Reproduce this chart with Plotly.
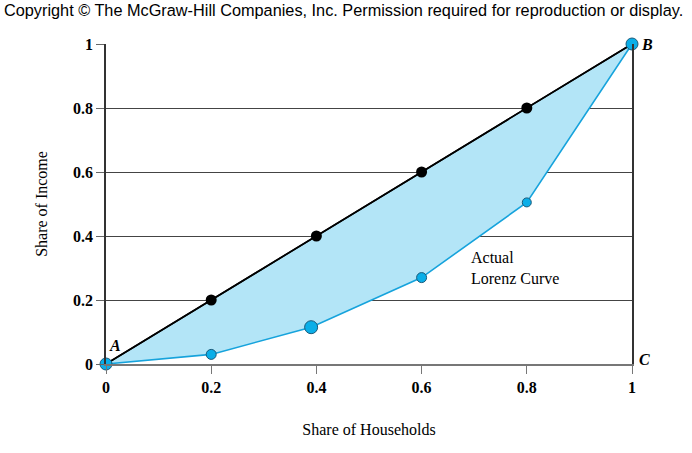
import plotly.graph_objects as go

households = [0, 0.2, 0.4, 0.6, 0.8, 1]
equality = [0, 0.2, 0.4, 0.6, 0.8, 1]
lorenz_x = [0, 0.2, 0.39, 0.6, 0.8, 1]
lorenz_y = [0, 0.03, 0.115, 0.27, 0.505, 1]
lorenz_sizes = [12, 10, 13, 10, 9, 12]
tick_vals = [0, 0.2, 0.4, 0.6, 0.8, 1]
tick_text = ["<b>0</b>", "<b>0.2</b>", "<b>0.4</b>", "<b>0.6</b>", "<b>0.8</b>", "<b>1</b>"]

serif = "Liberation Serif, Times New Roman, serif"
blue_line = "#16a3dc"
blue_fill = "#b3e5f7"
blue_marker = "#0aaee8"

fig = go.Figure()
fig.add_trace(go.Scatter(x=households, y=equality, mode="lines",
                         line=dict(color="black", width=1.6), hoverinfo="skip"))
fig.add_trace(go.Scatter(x=lorenz_x, y=lorenz_y, mode="lines", fill="tonexty",
                         fillcolor=blue_fill, line=dict(color=blue_line, width=1.6)))
fig.add_trace(go.Scatter(x=households, y=equality, mode="lines",
                         line=dict(color="black", width=1.6)))
fig.add_trace(go.Scatter(x=households[1:-1], y=equality[1:-1], mode="markers",
                         marker=dict(color="black", size=11, opacity=1), cliponaxis=False))
fig.add_trace(go.Scatter(x=lorenz_x, y=lorenz_y, mode="markers", cliponaxis=False,
                         marker=dict(color=blue_marker, size=lorenz_sizes, opacity=1,
                                     line=dict(color="#1a5a7a", width=1))))

fig.update_layout(
    width=692, height=453,
    margin=dict(l=106, r=60, t=44, b=89),
    paper_bgcolor="white", plot_bgcolor="white",
    showlegend=False,
    font=dict(family=serif, color="black", size=16),
    xaxis=dict(range=[0, 1], tickvals=tick_vals, ticktext=tick_text,
               showgrid=False, zeroline=False, showline=True, linecolor="#777",
               linewidth=1.5, ticks="outside", ticklen=8, tickcolor="#777",
               tickfont=dict(family=serif, size=16, color="black"),
               title=dict(text="Share of Households", font=dict(family=serif, size=16),
                          standoff=29)),
    yaxis=dict(range=[0, 1], tickvals=tick_vals, ticktext=tick_text,
               showgrid=True, gridcolor="#444", gridwidth=1, zeroline=False,
               showline=True, linecolor="#333", linewidth=1.5, mirror=True,
               ticks="outside", ticklen=8, tickcolor="#666",
               tickfont=dict(family=serif, size=16, color="black"),
               title=dict(text="Share of Income", font=dict(family=serif, size=16),
                          standoff=21)),
    annotations=[
        dict(text="Copyright © The McGraw-Hill Companies, Inc. Permission required for reproduction or display.",
             xref="paper", yref="paper", x=-104/526, y=1 + 34/320, xanchor="left", yanchor="middle",
             showarrow=False, font=dict(family="Liberation Sans, Arial, sans-serif", size=16.3, color="black")),
        dict(text="<b><i>A</i></b>", x=0, y=0, xanchor="left", yanchor="bottom", xshift=1, yshift=8,
             showarrow=False, font=dict(family=serif, size=16)),
        dict(text="<b><i>B</i></b>", x=1, y=1, xanchor="left", yanchor="middle", xshift=7,
             showarrow=False, font=dict(family=serif, size=16)),
        dict(text="<b><i>C</i></b>", x=1, y=0, xanchor="left", yanchor="middle", xshift=5, yshift=5,
             showarrow=False, font=dict(family=serif, size=16)),
        dict(text="Actual<br>Lorenz Curve", x=0.69, y=0.365, xanchor="left", yanchor="top",
             align="left", showarrow=False, font=dict(family=serif, size=16)),
    ],
)

fig.write_html("out.html")
